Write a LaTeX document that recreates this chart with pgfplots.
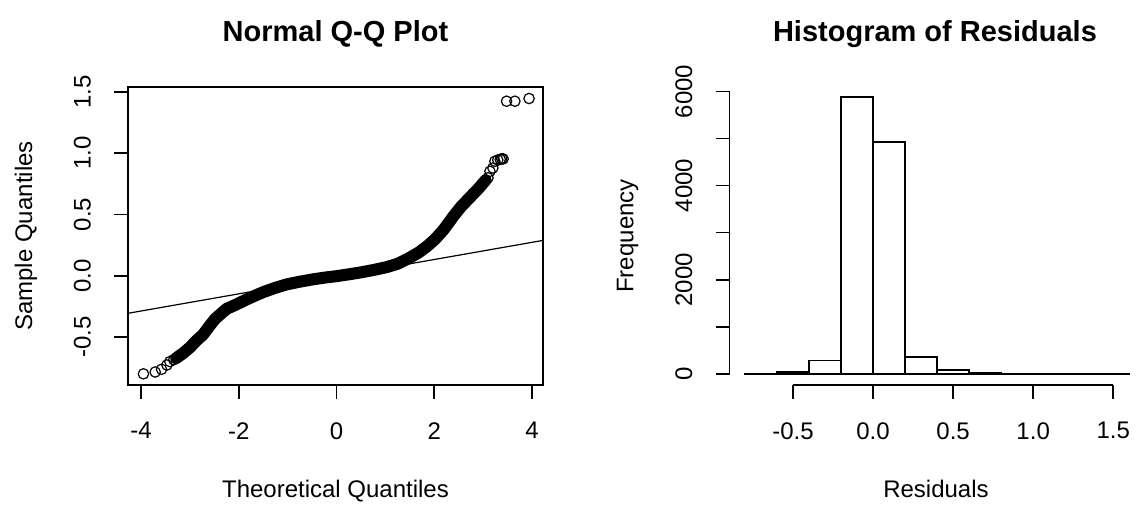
\documentclass[border=0pt]{standalone}
\usepackage{pgfplots}
\pgfplotsset{compat=1.18}
\usepackage{fontspec}
\setmainfont{Liberation Sans}
\begin{document}
\begin{tikzpicture}
\useasboundingbox (0,0) rectangle (568.5pt,253pt);
\pgfplotsset{rstyle/.style={
  scale only axis, width=207.5pt, height=149pt, anchor=south west,
  tick align=outside, major tick length=7pt,
  every tick/.style={black, line width=0.8pt},
  axis line style={line width=0.8pt},
  tick label style={font=\fontsize{12}{14}\selectfont, inner sep=0pt},
  xticklabel style={anchor=north},
  yticklabel style={rotate=90, anchor=south},
  xticklabel shift=11.5pt, yticklabel shift=11.4pt,
  scaled ticks=false,
}}
% ---------------- Normal Q-Q plot ----------------
\begin{axis}[rstyle, at={(64pt,60.5pt)},
  xmin=-4.266, xmax=4.225, ymin=-0.891, ymax=1.541,
  tick pos=left,
  xtick={-4,-2,0,2,4}, xticklabels={-4,-2,0,2,4},
  ytick={-0.5,0,0.5,1,1.5}, yticklabels={-0.5,0.0,0.5,1.0,1.5},
]
\addplot[black, line width=0.6pt] coordinates {(-4.266,-0.306) (4.225,0.289)};
\addplot[black, line width=6pt, line cap=round, line join=round] coordinates {
(-3.28,-0.672) (-3.15,-0.635) (-3.00,-0.585) (-2.87,-0.53) (-2.73,-0.48)
(-2.60,-0.41) (-2.48,-0.35) (-2.38,-0.315) (-2.25,-0.27) (-2.04,-0.232)
(-1.85,-0.195) (-1.70,-0.168) (-1.50,-0.133) (-1.25,-0.098) (-1.02,-0.07)
(-0.75,-0.048) (-0.50,-0.03) (-0.25,-0.015) (0,-0.003) (0.25,0.012)
(0.50,0.028) (0.75,0.047) (1.03,0.071) (1.25,0.098) (1.50,0.148)
(1.68,0.19) (1.85,0.24) (2.02,0.30) (2.19,0.376) (2.30,0.435)
(2.39,0.485) (2.55,0.565) (2.73,0.64) (2.90,0.71) (3.05,0.78)
};
\addplot[only marks, mark=o, mark size=2.6pt, mark options={line width=0.6pt, black}] coordinates {
(-3.95,-0.80) (-3.71,-0.785) (-3.58,-0.763) (-3.47,-0.728) (-3.41,-0.70) (-3.33,-0.685)
(3.10,0.80) (3.14,0.853) (3.20,0.88) (3.24,0.935) (3.30,0.945) (3.35,0.95) (3.38,0.955) (3.41,0.954)
(3.48,1.425) (3.65,1.425) (3.94,1.447)
};
\end{axis}
% ---------------- Histogram ----------------
\begin{axis}[rstyle, at={(364.8pt,60.5pt)},
  xmin=-0.896, xmax=1.696, ymin=-234.4, ymax=6094.4,
  axis x line*=bottom, axis y line*=left, axis line style={draw=none},
  clip=false,
  xtick={-0.5,0,0.5,1,1.5}, xticklabels={-0.5,0.0,0.5,1.0,1.5},
  ytick={0,1000,2000,3000,4000,5000,6000}, yticklabels={0,,2000,,4000,,6000},
]
\addplot[ybar interval, fill=white, draw=black, line width=0.8pt] coordinates {
(-0.8,12) (-0.6,45) (-0.4,285) (-0.2,5880) (0.0,4930) (0.2,356) (0.4,80)
(0.6,15) (0.8,10) (1.0,2) (1.2,1) (1.4,1) (1.6,1)
};
\draw[line width=0.8pt] (axis cs:-0.5,-234.4) -- (axis cs:1.5,-234.4);
\draw[line width=0.8pt] (axis cs:-0.896,0) -- (axis cs:-0.896,6000);
\end{axis}
% ---------------- titles and labels ----------------
\node[font=\fontsize{14.5}{17}\selectfont\bfseries, anchor=base] at (167.75pt,232.15pt) {Normal Q-Q Plot};
\node[font=\fontsize{14.5}{17}\selectfont\bfseries, anchor=base] at (467.5pt,232.15pt) {Histogram of Residuals};
\node[font=\fontsize{12}{14}\selectfont, anchor=base] at (167.75pt,4.2pt) {Theoretical Quantiles};
\node[font=\fontsize{12}{14}\selectfont, anchor=base] at (468pt,4.2pt) {Residuals};
\node[font=\fontsize{12}{14}\selectfont, anchor=base, rotate=90] at (16pt,135pt) {Sample Quantiles};
\node[font=\fontsize{12}{14}\selectfont, anchor=base, rotate=90] at (316.7pt,135pt) {Frequency};
\end{tikzpicture}
\end{document}
